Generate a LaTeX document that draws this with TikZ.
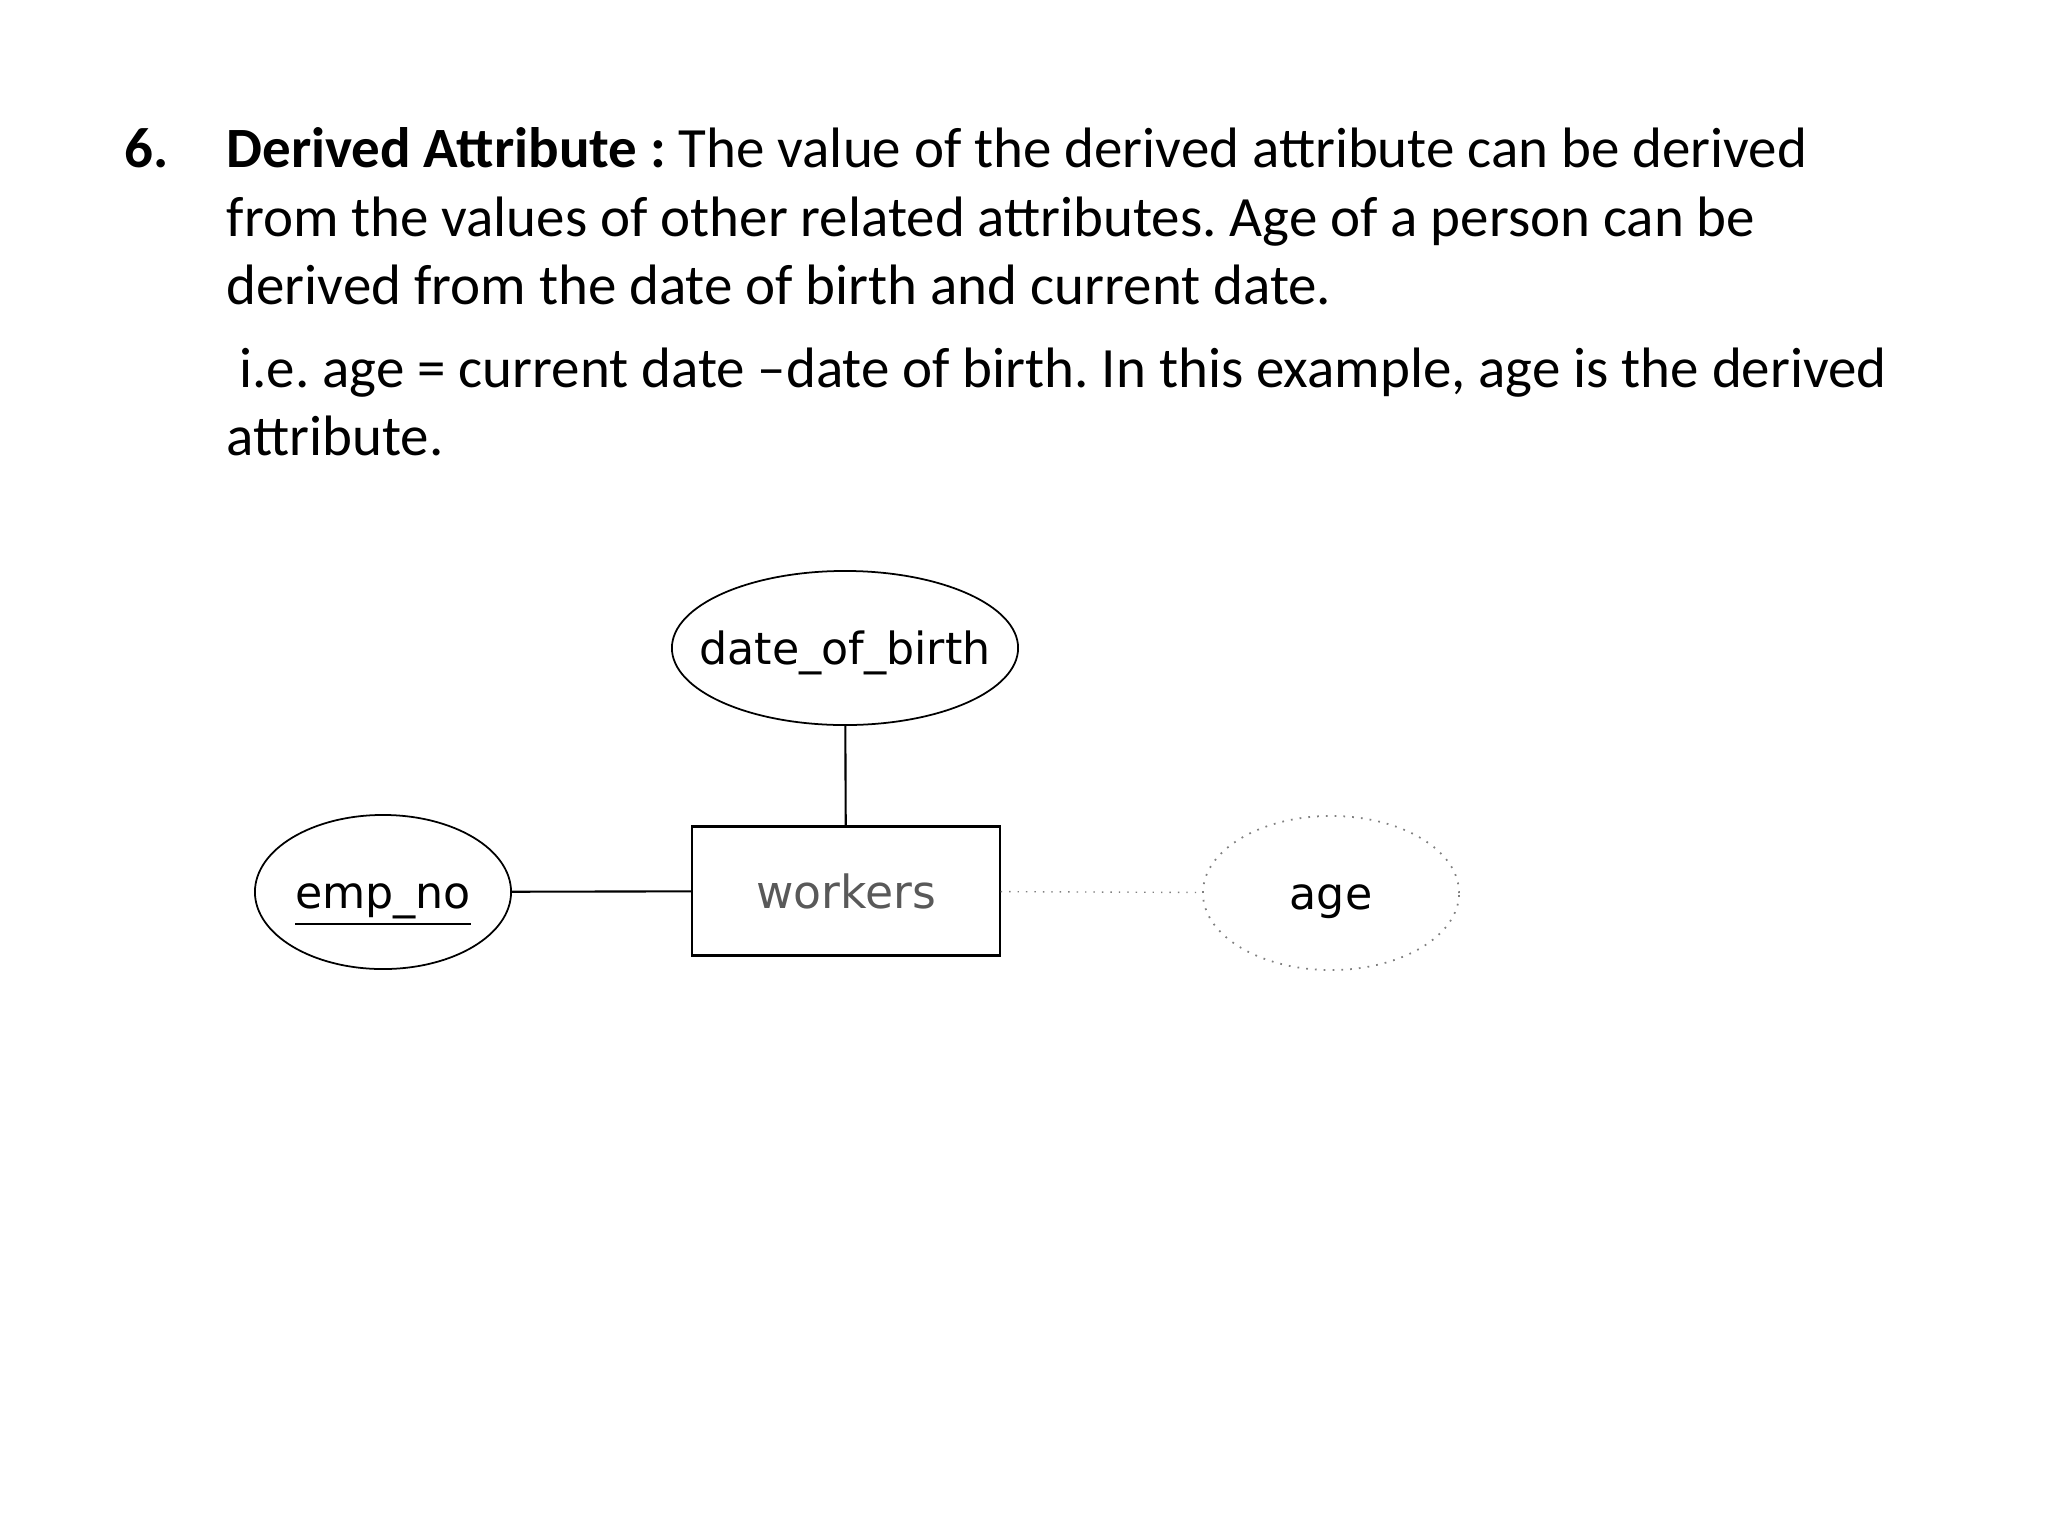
\documentclass[tikz,border=0pt]{standalone}
\usepackage{fontspec}
\setmainfont{Carlito}
\newfontfamily\erfont{DejaVu Sans}
\usetikzlibrary{shapes.geometric}
\frenchspacing
% keep the ellipse at its set size
\newcommand{\attrlabel}[1]{\makebox[0pt]{#1}}

\begin{document}
\begin{tikzpicture}[
    x=0.01cm, y=-0.01cm,
    txt/.style ={
        anchor=base west,
        inner sep=0pt,
        font=\fontsize{16.2}{19.4}\selectfont
    },
    attr/.style ={
        ellipse,
        draw=black,
        line width=0.5pt,
        inner sep=0pt,
        text height=9.4pt,
        text depth=0pt,
        minimum width=2.56cm,
        minimum height=1.54cm,
        font=\erfont\fontsize{12.6}{14}\selectfont
    },
    derived/.style ={
        attr,
        draw=gray,
        dotted
    },
    entity/.style ={
        rectangle,
        draw=black,
        line width=0.6pt,
        minimum width=3.07cm,
        minimum height=1.29cm,
        text=black!65,
        font=\erfont\fontsize{13}{15}\selectfont
    }
    ]
    \useasboundingbox (0,0) rectangle (2048,1536);

    % text
    \node[txt, font=\fontsize{16.2}{19.4}\selectfont\bfseries] (num) at (124,167) {6.};
    \foreach \i/\y/\t in {
        1/167/{\textbf{Derived Attribute :} The value of the derived attribute can be derived},
        2/236/{from the values of other related attributes. Age of a person can be},
        3/304/{derived from the date of birth and current date.},
        4/387/{\ i.e. age = current date –date of birth. In this example, age is the derived},
        5/455/{attribute.}}
        \node[txt] (line\i) at (226,\y) {\t};

    % er diagram
    \node[attr, minimum width=3.46cm] (dob) at (845,648) {\attrlabel{date\_of\_birth}};
    \node[entity] (workers) at (846,891) {workers};
    \node[attr] (empno) at (383,892) {\attrlabel{\underline{emp\_no}}};
    \node[derived] (age) at (1331,893) {\attrlabel{age}};

    \draw[line width=0.6pt] (dob) -- (workers);
    \draw[line width=0.6pt] (empno) -- (workers);
    \draw[gray, dotted] (workers) -- (age);

\end{tikzpicture}
\end{document}
